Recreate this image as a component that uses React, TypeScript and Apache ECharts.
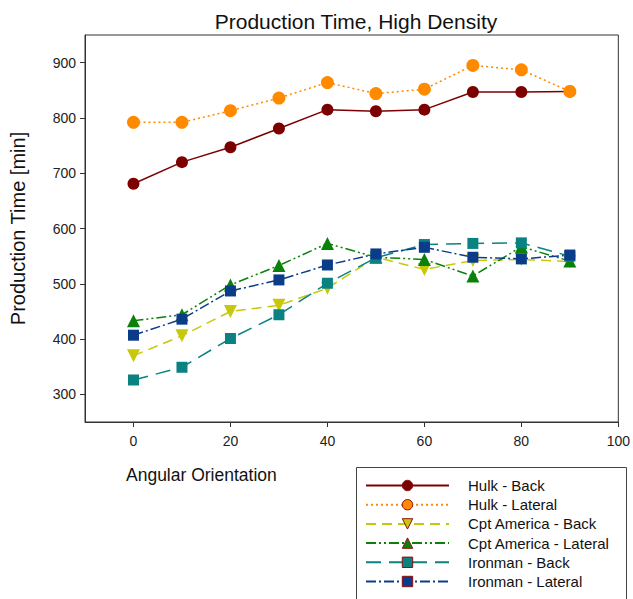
import React, { useEffect, useRef } from "react";
import * as echarts from "echarts";

const angles = [0, 10, 20, 30, 40, 50, 60, 70, 80, 90];
const hulkBack = [681, 720, 747, 781, 815, 812, 815, 847, 847, 848];
const hulkLateral = [792, 792, 813, 836, 864, 844, 852, 895, 887, 848];
const cptBack = [370, 406, 450, 461, 492, 548, 526, 542, 544, 540];
const cptLateral = [433, 444, 498, 533, 573, 548, 544, 514, 567, 541];
const ironBack = [326, 349, 401, 444, 501, 547, 571, 573, 574, 550];
const ironLateral = [407, 436, 487, 507, 534, 554, 566, 548, 545, 552];
const xTicks = [0, 20, 40, 60, 80, 100];
const yTicks = [300, 400, 500, 600, 700, 800, 900];
const seriesNames = [
  "Hulk - Back",
  "Hulk - Lateral",
  "Cpt America - Back",
  "Cpt America - Lateral",
  "Ironman - Back",
  "Ironman - Lateral",
];

const FONT = "Liberation Sans, Arial, sans-serif";

export default function App() {
  const ref = useRef<HTMLDivElement>(null);
  useEffect(() => {
    if (!ref.current) return;
    const chart = echarts.init(ref.current, undefined, { renderer: "svg" });
    const pair = (ys: number[]) => angles.map((a, i) => [a, ys[i]]);
    const mk = (
      name: string,
      ys: number[],
      color: string,
      dash: any,
      symbol: string,
      size: number,
      rotate = 0
    ) => ({
      name,
      type: "line",
      data: pair(ys),
      symbol,
      symbolSize: size,
      symbolRotate: rotate,
      showSymbol: true,
      lineStyle: { color, width: 1.5, type: dash },
      itemStyle: { color, borderColor: color, borderWidth: 0 },
      emphasis: { disabled: true },
      z: 2,
    });
    chart.setOption({
      animation: false,
      textStyle: { fontFamily: FONT },
      title: {
        text: "Production Time, High Density",
        left: 351,
        textAlign: "center",
        top: 6,
        textStyle: { fontFamily: FONT, fontSize: 21, fontWeight: "normal", color: "#111" },
      },
      grid: {
        left: 80,
        right: 14,
        top: 35,
        bottom: 177,
        show: true,
        borderColor: "#333",
        borderWidth: 1,
        backgroundColor: "transparent",
      },
      xAxis: {
        type: "value",
        min: -10,
        max: 100,
        axisLine: { show: true, onZero: false, lineStyle: { color: "#333", width: 1 } },
        axisTick: { show: true, length: 5, customValues: xTicks, lineStyle: { color: "#333" } },
        axisLabel: {
          customValues: xTicks,
          margin: 12,
          fontSize: 14,
          color: "#222",
          fontFamily: FONT,
        },
        splitLine: { show: false },
      },
      yAxis: {
        type: "value",
        min: 250,
        max: 950,
        name: "Production Time [min]",
        nameLocation: "middle",
        nameGap: 57,
        nameTextStyle: { fontSize: 20, color: "#111", fontFamily: FONT },
        axisLine: { show: true, onZero: false, lineStyle: { color: "#333", width: 1 } },
        axisTick: { show: true, length: 5, customValues: yTicks, lineStyle: { color: "#333" } },
        axisLabel: {
          customValues: yTicks,
          margin: 9,
          fontSize: 14,
          color: "#222",
          fontFamily: FONT,
        },
        splitLine: { show: false },
      },
      legend: {
        show: true,
        orient: "vertical",
        left: 365,
        top: 478,
        height: 125,
        padding: 0,
        itemWidth: 83,
        itemHeight: 13,
        itemGap: 4.2,
        data: seriesNames,
        textStyle: {
          fontSize: 15,
          color: "#111",
          fontFamily: FONT,
          padding: [0, 0, 0, 14],
        },
        itemStyle: { borderColor: "#8b1010", borderWidth: 1 },
        selectedMode: false,
      },
      graphic: [
        {
          type: "rect",
          left: 354,
          top: 465,
          shape: { width: 270, height: 160 },
          style: { fill: "none", stroke: "#444", lineWidth: 1 },
          z: 0,
        },
        {
          type: "text",
          left: 126,
          top: 466,
          style: {
            text: "Angular Orientation",
            fontSize: 17.5,
            fontFamily: FONT,
            fill: "#111",
          },
        },
      ],
      series: [
        mk(seriesNames[0], hulkBack, "#7d0000", "solid", "circle", 12),
        mk(seriesNames[1], hulkLateral, "#ff8a00", [2, 3], "circle", 13),
        mk(seriesNames[2], cptBack, "#c8c80a", [10, 6], "triangle", 13, 180),
        mk(seriesNames[3], cptLateral, "#0a820a", [10, 3, 2, 3, 2, 3], "triangle", 13),
        mk(seriesNames[4], ironBack, "#0a8282", [15, 8], "rect", 11),
        mk(seriesNames[5], ironLateral, "#0a3c8a", [10, 3, 2, 3], "rect", 11),
      ],
    });
    return () => chart.dispose();
  }, []);
  return (
    <div
      ref={ref}
      style={{ position: "fixed", left: 0, top: 0, width: 633, height: 599, background: "#fff" }}
    />
  );
}
